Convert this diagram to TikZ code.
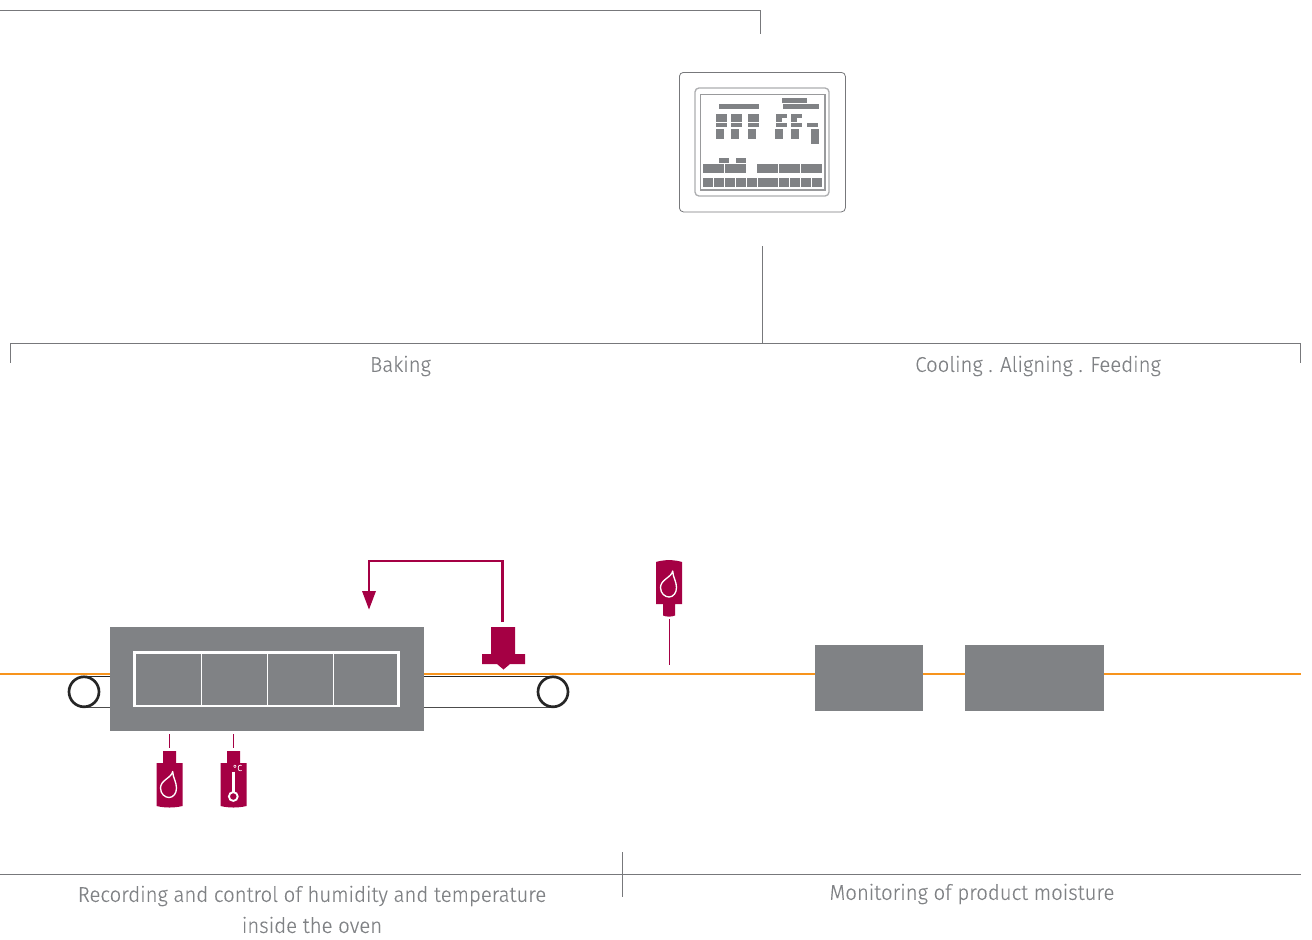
\documentclass[tikz,border=0pt]{standalone}
\usepackage{fontspec}
\setmainfont{Fira Sans Light}[FakeStretch=0.955,FakeBold=0.25]
\definecolor{crim}{HTML}{A50044}
\definecolor{gbox}{HTML}{808285}
\definecolor{gline}{HTML}{77787B}
\definecolor{gtext}{HTML}{808285}
\definecolor{orangeline}{HTML}{F7941D}
\tikzset{
  leader/.style={draw=gline,line width=0.8pt},
  captext/.style={text=gtext,font=\fontsize{16}{20}\selectfont,inner sep=0pt,anchor=center},
  block/.style={fill=gbox,draw=none,inner sep=0pt,anchor=north west},
  senseline/.style={draw=crim,line width=0.9pt},
  roller/.style={circle,draw=black!85,line width=2pt,fill=white,minimum size=30*0.75pt,inner sep=0pt},
  frameb/.style={draw=gline,line width=0.6pt,fill=white,rounded corners=2pt},
  bar/.style={fill=gbox,draw=none}
}
\newcommand{\sensor}[2]{% x of axis, top y of neck
  \fill[crim] (#1-6.5,#2) -- (#1+6.5,#2) -- (#1+6.5,#2+12) -- (#1+13,#2+12) -- (#1+13,#2+55)
     .. controls (#1+5,#2+57) and (#1-5,#2+57) .. (#1-13,#2+55) -- (#1-13,#2+12) -- (#1-6.5,#2+12) -- cycle;}
\newcommand{\dropshape}[2]{% centre of bulge
  \draw[white,line width=1pt,line join=round] (#1+4.7,#2-16.5)
    .. controls (#1+3.5,#2-10) and (#1-7.5,#2-8) .. (#1-7.5,#2)
    .. controls (#1-7.5,#2+6) and (#1-3,#2+9.5) .. (#1+1,#2+9.5)
    .. controls (#1+5.5,#2+9.5) and (#1+8.5,#2+5) .. (#1+8.5,#2)
    .. controls (#1+8.5,#2-6) and (#1+5,#2-10) .. cycle;}
\begin{document}
\begin{tikzpicture}[x=0.75pt,y=-0.75pt]
\useasboundingbox (0,0) rectangle (1312,939);
% named anchors
\coordinate (tl) at (0,10.5); \coordinate (tc) at (760.8,10.5); \coordinate (te) at (760.8,34);
\coordinate (vt) at (762.3,246); \coordinate (vb) at (762.3,344);
\coordinate (bl) at (10.7,343.7); \coordinate (bld) at (10.7,362.5);
\coordinate (br) at (1300.7,343.7); \coordinate (brd) at (1300.7,362.5);
\coordinate (ll) at (0,874.7); \coordinate (lr) at (1301,874.7);
\coordinate (mt) at (622.5,852); \coordinate (mb) at (622.5,897);
\draw[leader] (tl) -- (tc) -- (te);
\draw[leader] (vt) -- (vb);
\draw[leader] (bld) -- (bl) -- (br) -- (brd);
\draw[leader] (ll) -- (lr);
\draw[leader] (mt) -- (mb);
% control panel
\node[frameb,minimum width=166*0.75pt,minimum height=139.5*0.75pt,inner sep=0pt,anchor=north west,rounded corners=3pt] (panel) at (679,72) {};
\draw[gline!60,line width=1pt,rounded corners=3pt] (695,88) rectangle (829,196);
\draw[gline!75,line width=1pt] (700.3,94.3) rectangle (825,190);
\begin{scope}[shift={(670,65)},x=0.25pt,y=-0.25pt]
\foreach \a/\b/\c/\d in {147/117/267/132,336/99/411/114,339/117/447/132,
 138/147/171/170,183/147/216/170,234/147/267/170,
 318/147/351/159,318/159/336/170,363/147/396/159,363/159/381/170,
 138/174/171/185,183/174/216/185,234/174/267/185,318/174/351/185,363/174/396/185,411/174/444/185,
 138/192/162/222,183/192/207/222,234/192/258/222,315/192/339/222,363/192/387/222,423/192/447/237,
 147/279/177/294,198/279/228/294,
 99/297/162/324,165/297/228/324,261/297/324/324,327/297/390/324,393/297/456/324,
 99/339/129/366,132/339/162/366,165/339/195/366,198/339/228/366,231/339/261/366,264/339/324/366,
 327/339/357/366,360/339/390/366,393/339/423/366,426/339/456/366}
 \fill[bar] (\a,\b) rectangle (\c,\d);
\end{scope}
% line and belt
\coordinate (oL) at (0,674.3); \coordinate (oR) at (1301,674.3);
\draw[orangeline,line width=1.6pt] (oL) -- (oR);
\coordinate (b1) at (84,676.3); \coordinate (b2) at (553,676.3);
\coordinate (b3) at (84,707.3); \coordinate (b4) at (553,707.3);
\draw[black!85,line width=0.75pt] (b1) -- (b2);
\draw[black!70,line width=0.75pt] (b3) -- (b4);
\node[roller] (r1) at (84,691.8) {};
\node[roller] (r2) at (553,691.8) {};
% oven
\node[block,minimum width=314*0.75pt,minimum height=104*0.75pt] (oven) at (110,627) {};
\draw[white,line width=1.9pt] (134.3,652.5) rectangle (398.5,706);
\foreach \x in {201,267,333} \draw[white,line width=0.75pt] (\x,652.5) -- (\x,706);
% other machines
\node[block,minimum width=108*0.75pt,minimum height=66*0.75pt] (m1) at (815,645) {};
\node[block,minimum width=139*0.75pt,minimum height=66*0.75pt] (m2) at (965,645) {};
% actuator
\fill[crim] (491,627) -- (515,627) -- (515,654) -- (525,654) -- (525,664) -- (510,664) -- (503.5,669.5) -- (497,664) -- (482,664) -- (482,654) -- (491,654) -- cycle;
\coordinate (aS) at (502.5,622); \coordinate (a1) at (502.5,561); \coordinate (a2) at (369,561); \coordinate (a3) at (369,592);
\draw[crim,line width=2.1pt,line join=miter] (aS) -- (a1) -- (a2) -- (a3);
\fill[crim] (362,591) -- (376,591) -- (369,609.5) -- cycle;
% sensors below oven
\coordinate (s1a) at (169.5,734); \coordinate (s1b) at (169.5,748);
\draw[senseline] (s1a) -- (s1b);
\sensor{169.5}{751}
\dropshape{168}{788}
\coordinate (s2a) at (233.5,734); \coordinate (s2b) at (233.5,748);
\draw[senseline] (s2a) -- (s2b);
\sensor{233.5}{751}
\draw[white,line width=1.9pt] (233.3,771.5) -- (233.3,793);
\draw[white,line width=1.4pt] (233.3,796.5) circle (3.3pt);
\node[text=white,font=\fontsize{6.5}{7}\selectfont,inner sep=0pt] (deg) at (237.5,768) {°C};
% sensor above line
\fill[crim] (656,562) .. controls (664,559.5) and (674,559.5) .. (682,562) -- (682,604) -- (675,604) -- (675,615.5) .. controls (672,617) and (666,617) .. (663,615.5) -- (663,604) -- (656,604) -- cycle;
\dropshape{668}{587.5}
\coordinate (s3a) at (669.5,619); \coordinate (s3b) at (669.5,665);
\draw[senseline] (s3a) -- (s3b);
% captions
\node[captext] (c1) at (400.5,366) {Baking};
\node[captext] (c2) at (1038,366) {Cooling . Aligning . Feeding};
\node[captext] (c3) at (312,896) {Recording and control of humidity and temperature};
\node[captext] (c4) at (312,925) {inside the oven};
\node[captext] (c5) at (972,894) {Monitoring of product moisture};
\end{tikzpicture}
\end{document}
